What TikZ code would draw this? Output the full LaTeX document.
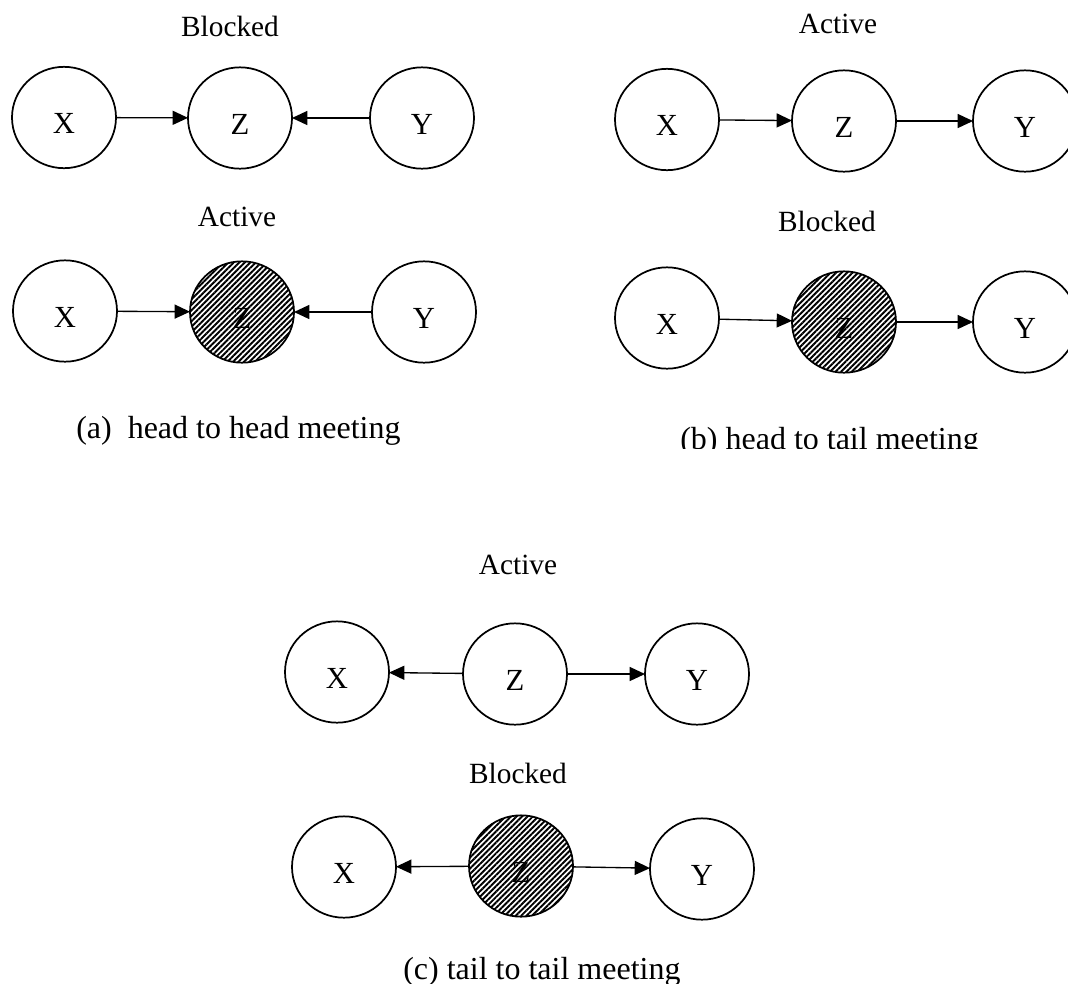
\documentclass[tikz,border=0pt]{standalone}
\usepackage{fontspec}
\setmainfont{Liberation Serif}
\usetikzlibrary{shapes.geometric,arrows.meta,patterns.meta}
\begin{document}
\begin{tikzpicture}[x=0.75pt,y=-0.75pt,
  var/.style={ellipse,draw,line width=1.3pt,minimum width=78pt,minimum height=76pt,
    inner sep=0pt,outer sep=0pt,font=\fontsize{23}{27}\selectfont,
    text height=24pt,text depth=0pt},
  obs/.style={var,pattern={Lines[angle=45,distance=2.9pt,line width=1.45pt]}},
  arr/.style={-{Triangle[length=11.5pt,width=10.5pt]},line width=1pt},
  state/.style={anchor=base,font=\fontsize{22}{26}\selectfont,inner sep=0pt},
  capt/.style={anchor=base west,font=\fontsize{24}{28}\selectfont,inner sep=0pt}]
\useasboundingbox (0,0) rectangle (1068,983);
\clip (0,0) rectangle (1068,983);

% (a) head to head
\node[state] (a1) at (230,36) {Blocked};
\node[var] (ax1) at (64,117.5) {X};
\node[var] (az1) at (240,118) {Z};
\node[var] (ay1) at (422,118) {Y};
\draw[arr] (ax1) -- (az1);
\draw[arr] (ay1) -- (az1);

\node[state] (a2) at (237,226) {Active};
\node[var] (ax2) at (65,311) {X};
\node[obs] (az2) at (242,312) {Z};
\node[var] (ay2) at (424,312) {Y};
\draw[arr] (ax2) -- (az2);
\draw[arr] (ay2) -- (az2);

\node[capt] (ca) at (76,438) {(a)~~head to head meeting};

% (b) head to tail
\node[state] (b1) at (838,33) {Active};
\node[var] (bx1) at (667,119.5) {X};
\node[var] (bz1) at (844,121) {Z};
\node[var] (by1) at (1025,121) {Y};
\draw[arr] (bx1) -- (bz1);
\draw[arr] (bz1) -- (by1);

\node[state] (b2) at (827,231) {Blocked};
\node[var] (bx2) at (667,318) {X};
\node[obs] (bz2) at (844,322) {Z};
\node[var] (by2) at (1025,322) {Y};
\draw[arr] (bx2) -- (bz2);
\draw[arr] (bz2) -- (by2);

% the caption of (b) is cut along its lower edge
\begin{scope}
  \clip (600,400) rectangle (1068,448);
  \node[capt] (cb) at (680,449) {(b) head to tail meeting};
\end{scope}

% (c) tail to tail
\node[state] (c1) at (518,574) {Active};
\node[var] (cx1) at (337,672) {X};
\node[var] (cz1) at (515,674) {Z};
\node[var] (cy1) at (697,674) {Y};
\draw[arr] (cz1) -- (cx1);
\draw[arr] (cz1) -- (cy1);

\node[state] (c2) at (518,783) {Blocked};
\node[var] (cx2) at (344,867) {X};
\node[obs] (cz2) at (521,866) {Z};
\node[var] (cy2) at (702,869) {Y};
\draw[arr] (cz2) -- (cx2);
\draw[arr] (cz2) -- (cy2);

\node[capt] (cc) at (403,979) {(c) tail to tail meeting};
\end{tikzpicture}
\end{document}
